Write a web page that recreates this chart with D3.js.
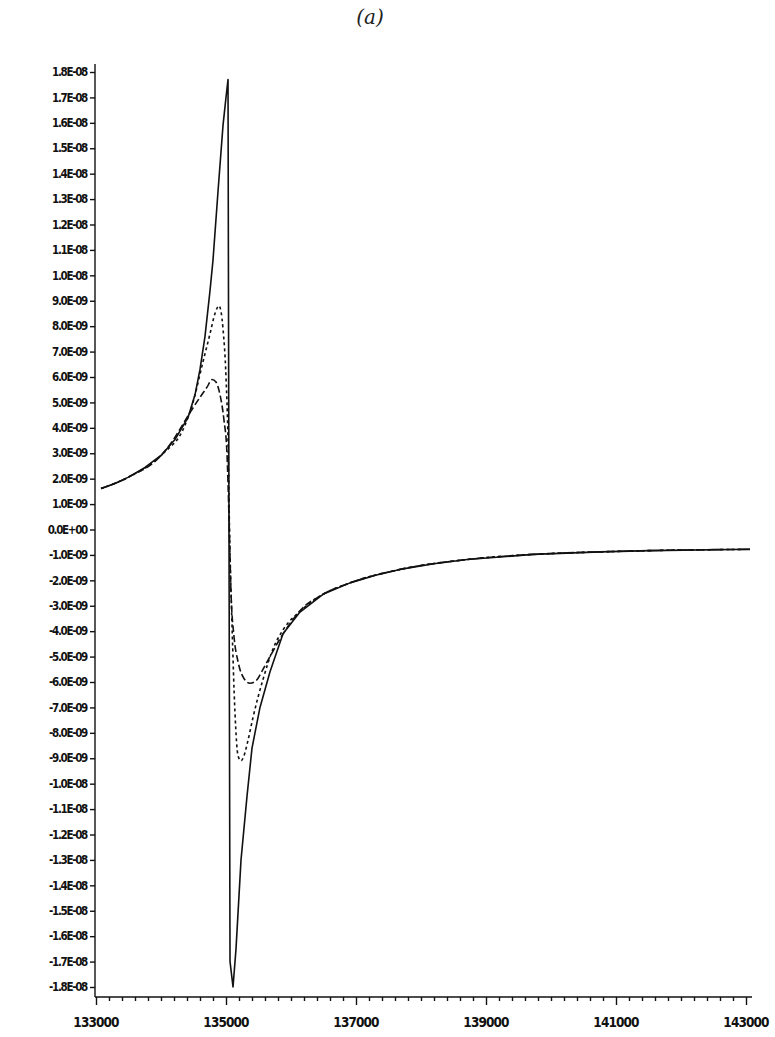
<!DOCTYPE html>
<html>
<head>
<meta charset="utf-8">
<script src="https://cdn.jsdelivr.net/npm/d3@7"></script>
<style>
  body { margin: 0; background: #fff; }
  svg { display: block; }
  .axis path, .axis line { stroke: #111; stroke-width: 1.4; }
  .axis text { fill: #111; font-family: "DejaVu Sans Condensed", "DejaVu Sans", sans-serif; }
</style>
</head>
<body>
<svg id="chart" width="775" height="1037"></svg>
<script>
// values on the y axis are in units of 1E-09
const solidX = [133077, 133292, 133492, 133754, 134015, 134215, 134415, 134523, 134600, 134677, 134754, 134800, 134877, 134954, 135000, 135031, 135046, 135062, 135108, 135154, 135231, 135323, 135400, 135523, 135677, 135877, 136138, 136492, 136908, 137300, 137677, 138200, 138708, 139723, 140754, 141523, 143062];
const solidY = [1.61, 1.81, 2.05, 2.44, 2.95, 3.54, 4.4, 5.3, 6.3, 7.6, 9.4, 10.6, 13.3, 15.9, 17.0, 17.7, 0.0, -17.0, -18.0, -16.5, -13.0, -10.5, -8.6, -7.0, -5.6, -4.1, -3.25, -2.55, -2.1, -1.8, -1.57, -1.35, -1.18, -0.98, -0.88, -0.83, -0.78];

const dashX = [133077, 133492, 134015, 134369, 134492, 134646, 134754, 134831, 134892, 134954, 135000, 135031, 135054, 135092, 135138, 135185, 135231, 135277, 135338, 135415, 135569, 135723, 135877, 136138, 136492, 136908, 137677, 138708, 139723, 140754, 141523, 143062];
const dashY = [1.61, 2.05, 2.95, 4.1, 5.0, 6.6, 7.7, 8.5, 8.8, 7.9, 6.0, 3.5, 0.0, -3.7, -7.2, -8.9, -9.1, -8.9, -8.3, -7.4, -5.9, -4.7, -3.95, -3.22, -2.55, -2.1, -1.57, -1.18, -0.98, -0.88, -0.83, -0.78];

const dashDotX = [133077, 133492, 134015, 134169, 134292, 134446, 134600, 134708, 134785, 134846, 134908, 134969, 135015, 135046, 135077, 135123, 135185, 135262, 135369, 135462, 135569, 135677, 135831, 135985, 136138, 136492, 136908, 137677, 138708, 139723, 140754, 141523, 143062];
const dashDotY = [1.61, 2.05, 2.95, 3.45, 3.95, 4.6, 5.2, 5.6, 5.9, 5.8, 5.3, 4.3, 3.0, 0.5, -2.5, -4.2, -5.2, -5.8, -6.05, -5.95, -5.5, -5.0, -4.3, -3.7, -3.2, -2.55, -2.1, -1.57, -1.18, -0.98, -0.88, -0.83, -0.78];

const yTickValues = [18, 17, 16, 15, 14, 13, 12, 11, 10, 9, 8, 7, 6, 5, 4, 3, 2, 1, 0, -1, -2, -3, -4, -5, -6, -7, -8, -9, -10, -11, -12, -13, -14, -15, -16, -17, -18];
const yTickLabels = ["1.8E-08", "1.7E-08", "1.6E-08", "1.5E-08", "1.4E-08", "1.3E-08", "1.2E-08", "1.1E-08", "1.0E-08",
  "9.0E-09", "8.0E-09", "7.0E-09", "6.0E-09", "5.0E-09", "4.0E-09", "3.0E-09", "2.0E-09", "1.0E-09", "0.0E+00",
  "-1.0E-09", "-2.0E-09", "-3.0E-09", "-4.0E-09", "-5.0E-09", "-6.0E-09", "-7.0E-09", "-8.0E-09", "-9.0E-09",
  "-1.0E-08", "-1.1E-08", "-1.2E-08", "-1.3E-08", "-1.4E-08", "-1.5E-08", "-1.6E-08", "-1.7E-08", "-1.8E-08"];
const xMajorTicks = [133000, 135000, 137000, 139000, 141000, 143000];
const xMajorLabels = ["133000", "135000", "137000", "139000", "141000", "143000"];

const svg = d3.select("#chart");

const x = d3.scaleLinear().domain([133000, 143000]).range([96, 746]);
const y = d3.scaleLinear().domain([-18, 18]).range([987, 72]);

const axisY = 997, axisX = 95;

// title
svg.append("text")
  .attr("x", 370).attr("y", 24)
  .attr("text-anchor", "middle")
  .attr("font-family", "DejaVu Serif, serif")
  .attr("font-style", "italic")
  .attr("font-size", 20)
  .attr("fill", "#222")
  .text("(a)");

// y axis
const yAxis = svg.append("g").attr("class", "axis")
  .attr("transform", `translate(${axisX},0)`)
  .call(d3.axisLeft(y)
    .tickValues(yTickValues)
    .tickFormat((d, i) => yTickLabels[i])
    .tickSize(5).tickSizeOuter(0).tickPadding(3));
yAxis.select(".domain").attr("d", `M0,64V${axisY}`);
yAxis.selectAll("text")
  .attr("font-size", 11.5)
  .attr("letter-spacing", -1.3)
  .attr("font-weight", "bold");

// x axis
const minorTicks = d3.range(133000, 143001, 200);
const xAxis = svg.append("g").attr("class", "axis")
  .attr("transform", `translate(0,${axisY})`)
  .call(d3.axisBottom(x)
    .tickValues(minorTicks)
    .tickFormat("")
    .tickSize(4).tickSizeOuter(0));
xAxis.select(".domain").attr("d", `M${axisX},0H752`);
xAxis.selectAll(".tick line").filter(d => xMajorTicks.includes(d)).attr("y2", 8);

svg.append("g").attr("class", "axis")
  .selectAll("text")
  .data(xMajorTicks)
  .join("text")
    .attr("x", d => x(d))
    .attr("y", axisY + 30)
    .attr("text-anchor", "middle")
    .attr("font-size", 13.5)
    .attr("letter-spacing", -0.9)
    .attr("font-weight", "bold")
    .text((d, i) => xMajorLabels[i]);

// curves: the solid one keeps its sharp peak and trough
const series = [
  { xs: solidX, ys: solidY, dash: null, curve: d3.curveLinear },
  { xs: dashX, ys: dashY, dash: "3,3", curve: d3.curveMonotoneX },
  { xs: dashDotX, ys: dashDotY, dash: "7,3", curve: d3.curveMonotoneX }
];

svg.append("g")
  .selectAll("path")
  .data(series)
  .join("path")
    .attr("fill", "none")
    .attr("stroke", "#111")
    .attr("stroke-width", 1.6)
    .attr("stroke-linejoin", "round")
    .attr("stroke-dasharray", d => d.dash)
    .attr("d", d => d3.line()
      .x(p => x(p[0]))
      .y(p => y(p[1]))
      .curve(d.curve)(d.xs.map((v, i) => [v, d.ys[i]])));
</script>
</body>
</html>
